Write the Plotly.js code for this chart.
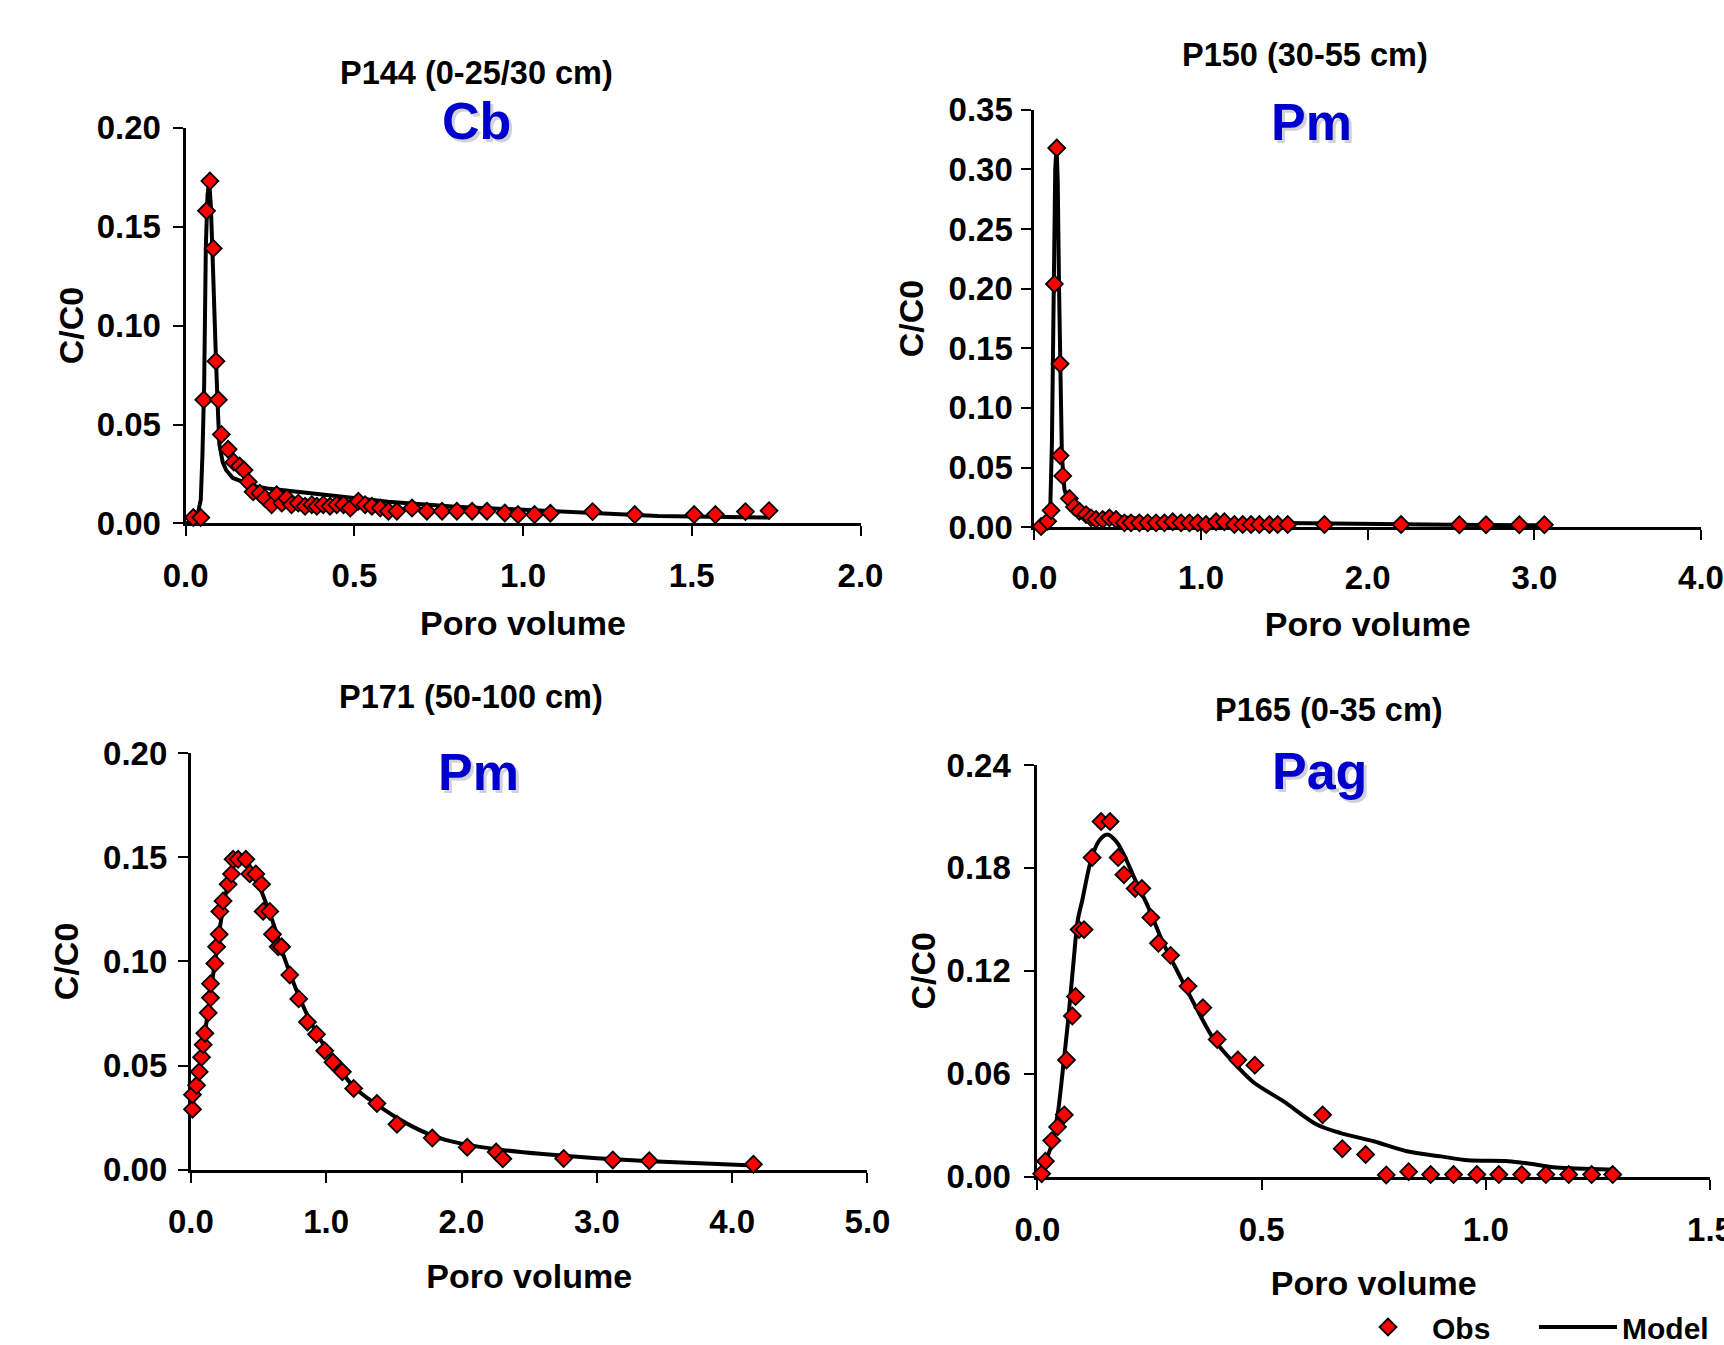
<!DOCTYPE html>
<html>
<head>
<meta charset="utf-8">
<script src="https://cdn.plot.ly/plotly-3.0.1.min.js"></script>
<style>html,body{margin:0;padding:0;background:#fff;}</style>
</head>
<body>
<div id="chart" style="width:1724px;height:1345px"></div>
<script>
// ---------------- DATA ----------------
const panelTitles = ["P144 (0-25/30 cm)", "P150 (30-55 cm)", "P171 (50-100 cm)", "P165 (0-35 cm)"];
const soilLabels = ["Cb", "Pm", "Pm", "Pag"];
const xAxisTitle = "Poro volume";
const yAxisTitle = "C/C0";
const seriesNames = ["Obs", "Model"];

// P144 (0-25/30 cm) - Cb
const p144ObsX = [0.023, 0.045, 0.054, 0.062, 0.072, 0.082, 0.090, 0.097, 0.106, 0.126, 0.143, 0.160, 0.173, 0.186, 0.200, 0.220, 0.235, 0.255, 0.270, 0.285, 0.300, 0.314, 0.334, 0.354, 0.374, 0.389, 0.408, 0.428, 0.448, 0.468, 0.488, 0.512, 0.532, 0.552, 0.577, 0.601, 0.626, 0.671, 0.715, 0.760, 0.804, 0.849, 0.893, 0.946, 0.985, 1.034, 1.081, 1.206, 1.331, 1.507, 1.570, 1.659, 1.729];
const p144ObsY = [0.003, 0.003, 0.0625, 0.158, 0.173, 0.139, 0.082, 0.0625, 0.045, 0.0375, 0.031, 0.029, 0.027, 0.021, 0.016, 0.0153, 0.0128, 0.0095, 0.0145, 0.0103, 0.0128, 0.0095, 0.0103, 0.0087, 0.0095, 0.0087, 0.0095, 0.0087, 0.0095, 0.0095, 0.0078, 0.0112, 0.0095, 0.0087, 0.0078, 0.0062, 0.0062, 0.0078, 0.0062, 0.0062, 0.0062, 0.0062, 0.0062, 0.0053, 0.0045, 0.0045, 0.0052, 0.0060, 0.0045, 0.0045, 0.0045, 0.0060, 0.0065];
const p144ModelX = [0, 0.02, 0.035, 0.045, 0.05, 0.055, 0.06, 0.065, 0.07, 0.075, 0.08, 0.085, 0.09, 0.095, 0.1, 0.11, 0.12, 0.14, 0.17, 0.2, 0.25, 0.3, 0.4, 0.5, 0.6, 0.8, 1.0, 1.2, 1.4, 1.6, 1.73];
const p144ModelY = [0, 0.001, 0.004, 0.012, 0.035, 0.07, 0.14, 0.166, 0.173, 0.16, 0.135, 0.115, 0.083, 0.06, 0.04, 0.031, 0.027, 0.023, 0.021, 0.019, 0.0175, 0.0165, 0.0145, 0.0125, 0.011, 0.0085, 0.0068, 0.005, 0.0038, 0.0033, 0.003];

// P150 (30-55 cm) - Pm
const p150ObsX = [0.04, 0.08, 0.10, 0.12, 0.134, 0.154, 0.154, 0.17, 0.21, 0.24, 0.27, 0.31, 0.34, 0.37, 0.41, 0.45, 0.49, 0.54, 0.58, 0.63, 0.68, 0.73, 0.78, 0.83, 0.88, 0.93, 0.98, 1.03, 1.09, 1.14, 1.20, 1.25, 1.30, 1.35, 1.41, 1.46, 1.52, 1.74, 2.20, 2.55, 2.71, 2.91, 3.06];
const p150ObsY = [0.0005, 0.005, 0.014, 0.204, 0.318, 0.137, 0.060, 0.043, 0.024, 0.017, 0.0133, 0.0105, 0.0078, 0.0064, 0.0064, 0.0078, 0.0064, 0.0036, 0.0036, 0.0036, 0.0036, 0.0036, 0.0036, 0.0045, 0.0036, 0.0036, 0.0036, 0.0022, 0.0045, 0.0045, 0.0022, 0.0022, 0.0022, 0.0022, 0.0022, 0.0022, 0.0022, 0.0022, 0.0022, 0.002, 0.002, 0.002, 0.002];
const p150ModelX = [0, 0.05, 0.08, 0.095, 0.105, 0.115, 0.125, 0.133, 0.14, 0.148, 0.155, 0.165, 0.18, 0.2, 0.23, 0.3, 0.4, 0.5, 0.7, 1.0, 1.5, 2.0, 2.5, 3.06];
const p150ModelY = [0, 0.001, 0.004, 0.015, 0.07, 0.2, 0.3, 0.32, 0.29, 0.2, 0.12, 0.06, 0.032, 0.022, 0.016, 0.012, 0.01, 0.0085, 0.0065, 0.005, 0.0035, 0.0025, 0.002, 0.0015];

// P171 (50-100 cm) - Pm
const p171ObsX = [0.012, 0.012, 0.042, 0.061, 0.079, 0.091, 0.103, 0.128, 0.145, 0.145, 0.177, 0.19, 0.209, 0.214, 0.238, 0.275, 0.300, 0.312, 0.349, 0.406, 0.435, 0.480, 0.522, 0.534, 0.583, 0.603, 0.645, 0.67, 0.731, 0.797, 0.861, 0.928, 0.989, 1.050, 1.119, 1.203, 1.375, 1.523, 1.784, 2.042, 2.256, 2.305, 2.755, 3.118, 3.387, 4.157];
const p171ObsY = [0.029, 0.036, 0.0405, 0.047, 0.054, 0.060, 0.0655, 0.0753, 0.0825, 0.0893, 0.099, 0.107, 0.113, 0.124, 0.129, 0.137, 0.142, 0.149, 0.149, 0.149, 0.142, 0.142, 0.137, 0.124, 0.124, 0.113, 0.107, 0.107, 0.0935, 0.082, 0.0709, 0.065, 0.0571, 0.0516, 0.047, 0.039, 0.0318, 0.0218, 0.0152, 0.0108, 0.0085, 0.0052, 0.0054, 0.0047, 0.0043, 0.0026];
const p171ModelX = [0.01, 0.05, 0.1, 0.15, 0.2, 0.25, 0.3, 0.35, 0.4, 0.45, 0.5, 0.6, 0.7, 0.8, 0.9, 1.0, 1.2, 1.4, 1.6, 1.8, 2.0, 2.3, 2.6, 3.0, 3.4, 4.16];
const p171ModelY = [0.03, 0.043, 0.064, 0.087, 0.11, 0.13, 0.143, 0.149, 0.149, 0.144, 0.137, 0.12, 0.1, 0.083, 0.069, 0.058, 0.04, 0.03, 0.022, 0.016, 0.0125, 0.0095, 0.0075, 0.0055, 0.004, 0.002];

// P165 (0-35 cm) - Pag
const p165ObsX = [0.0096, 0.018, 0.032, 0.045, 0.060, 0.065, 0.078, 0.085, 0.093, 0.104, 0.122, 0.142, 0.162, 0.180, 0.193, 0.218, 0.233, 0.253, 0.270, 0.297, 0.336, 0.369, 0.401, 0.447, 0.485, 0.636, 0.680, 0.732, 0.778, 0.828, 0.877, 0.928, 0.980, 1.029, 1.080, 1.134, 1.185, 1.236, 1.283];
const p165ObsY = [0.0017, 0.009, 0.021, 0.029, 0.036, 0.068, 0.0937, 0.105, 0.144, 0.144, 0.186, 0.207, 0.207, 0.186, 0.176, 0.168, 0.168, 0.151, 0.136, 0.129, 0.111, 0.0985, 0.080, 0.068, 0.065, 0.036, 0.0163, 0.0129, 0.001, 0.0029, 0.0012, 0.0012, 0.0012, 0.0012, 0.0012, 0.0012, 0.0012, 0.0012, 0.0012];
const p165ModelX = [0.004, 0.015, 0.032, 0.046, 0.057, 0.068, 0.079, 0.09, 0.1, 0.119, 0.137, 0.156, 0.178, 0.196, 0.219, 0.244, 0.281, 0.318, 0.356, 0.393, 0.437, 0.481, 0.55, 0.624, 0.676, 0.75, 0.824, 0.9, 0.96, 1.05, 1.1, 1.15, 1.2, 1.29];
const p165ModelY = [0.0013, 0.0071, 0.0187, 0.0379, 0.0629, 0.0898, 0.1206, 0.1495, 0.161, 0.184, 0.1956, 0.1995, 0.1947, 0.186, 0.1725, 0.159, 0.136, 0.1167, 0.0975, 0.0802, 0.0667, 0.0552, 0.0437, 0.0302, 0.0254, 0.0206, 0.0148, 0.0118, 0.0095, 0.009, 0.0075, 0.0055, 0.0048, 0.004];

// ---------------- LAYOUT ----------------
const W = 1724, H = 1345;
const FONT = '"Liberation Sans", Arial, Helvetica, sans-serif';
const fx = p => p / W;          // pixel -> paper x
const fy = p => 1 - p / H;      // pixel -> paper y

const obsMarker = {symbol: 'diamond', size: 13, color: '#ff0000', line: {color: '#000000', width: 1.8}};
const modelLine = {color: '#000000', width: 4};

const panels = [
  {obsX: p144ObsX, obsY: p144ObsY, modX: p144ModelX, modY: p144ModelY, shape: 'linear',
   xdom: [185.7, 861], ydom: [529, 129], xr: [0, 2], xd: 0.5, yr: [0, 0.2], yd: 0.05,
   title: [477, 74], label: [477, 122], xlabOff: 11, xtitleOff: 19, ylabOff: 5, ytitleOff: 3},
  {obsX: p150ObsX, obsY: p150ObsY, modX: p150ModelX, modY: p150ModelY, shape: 'linear',
   xdom: [1035, 1702], ydom: [532.7, 111], xr: [0, 4], xd: 1.0, yr: [0, 0.35], yd: 0.05,
   title: [1306, 56], label: [1312, 123], xlabOff: 9, xtitleOff: 18, ylabOff: 2, ytitleOff: 15},
  {obsX: p171ObsX, obsY: p171ObsY, modX: p171ModelX, modY: p171ModelY, shape: 'spline',
   xdom: [191, 868], ydom: [1182, 761], xr: [0, 5], xd: 1.0, yr: [0, 0.2], yd: 0.05,
   title: [471, 704], label: [479, 780], xlabOff: 11, xtitleOff: 25, ylabOff: 4, ytitleOff: 15},
  {obsX: p165ObsX, obsY: p165ObsY, modX: p165ModelX, modY: p165ModelY, shape: 'spline',
   xdom: [1038, 1711], ydom: [1189, 773], xr: [0, 1.5], xd: 0.5, yr: [0, 0.24], yd: 0.06,
   title: [1330, 717], label: [1320, 779], xlabOff: 12, xtitleOff: 24, ylabOff: 7, ytitleOff: 1}
];

const traces = [];
const layout = {
  width: W, height: H,
  margin: {l: 0, r: 0, t: 0, b: 0},
  paper_bgcolor: '#ffffff', plot_bgcolor: 'rgba(0,0,0,0)',
  font: {family: FONT, color: '#000000'},
  showlegend: true,
  legend: {
    orientation: 'h', x: fx(1345), xanchor: 'left', y: fy(1333), yanchor: 'middle',
    font: {family: FONT, size: 30, color: '#000000', weight: 'bold'},
    itemwidth: 78, entrywidth: 97, entrywidthmode: 'pixels',
    bgcolor: 'rgba(0,0,0,0)', borderwidth: 0
  },
  annotations: []
};

panels.forEach((p, i) => {
  const n = i === 0 ? '' : String(i + 1);
  const xa = 'x' + n, ya = 'y' + n;
  traces.push({
    type: 'scatter', mode: 'lines', x: p.modX, y: p.modY, xaxis: xa, yaxis: ya,
    name: seriesNames[1], legendgroup: 'model', showlegend: i === 0, legendrank: 2,
    line: Object.assign({shape: p.shape, smoothing: 0.8}, modelLine), cliponaxis: false, hoverinfo: 'skip'
  });
  traces.push({
    type: 'scatter', mode: 'markers', x: p.obsX, y: p.obsY, xaxis: xa, yaxis: ya,
    name: seriesNames[0], legendgroup: 'obs', showlegend: i === 0, legendrank: 1,
    marker: obsMarker, cliponaxis: false
  });
  const axCommon = {
    showline: true, linecolor: '#000000', linewidth: 3,
    ticks: 'outside', ticklen: 10, tickwidth: 2, tickcolor: '#000000',
    showgrid: false, zeroline: false, layer: 'below traces', fixedrange: true,
    tickfont: {family: FONT, size: 33, color: '#000000', weight: 'bold'}
  };
  layout['xaxis' + n] = Object.assign({}, axCommon, {
    domain: [fx(p.xdom[0]), fx(p.xdom[1])], range: p.xr, tick0: 0, dtick: p.xd, tickformat: '.1f',
    anchor: ya, ticklabelstandoff: p.xlabOff, ticklabeloverflow: 'allow',
    title: {text: xAxisTitle, standoff: p.xtitleOff, font: {family: FONT, size: 34, color: '#000000', weight: 'bold'}}
  });
  layout['yaxis' + n] = Object.assign({}, axCommon, {
    domain: [fy(p.ydom[0]), fy(p.ydom[1])], range: p.yr, tick0: 0, dtick: p.yd, tickformat: '.2f',
    anchor: xa, ticklabelstandoff: p.ylabOff,
    title: {text: yAxisTitle, standoff: p.ytitleOff, font: {family: FONT, size: 34, color: '#000000', weight: 'bold'}}
  });
  layout.annotations.push({
    xref: 'paper', yref: 'paper', x: fx(p.title[0]), y: fy(p.title[1]), xanchor: 'center', yanchor: 'middle',
    showarrow: false, text: panelTitles[i], font: {family: FONT, size: 32.5, color: '#000000', weight: 'bold'}
  });
  // soft shadow, then the blue soil label
  layout.annotations.push({
    xref: 'paper', yref: 'paper', x: fx(p.label[0] + 3), y: fy(p.label[1] + 3), xanchor: 'center', yanchor: 'middle',
    showarrow: false, text: soilLabels[i], font: {family: FONT, size: 52, color: 'rgba(90,90,120,0.28)', weight: 'bold'}
  });
  layout.annotations.push({
    xref: 'paper', yref: 'paper', x: fx(p.label[0]), y: fy(p.label[1]), xanchor: 'center', yanchor: 'middle',
    showarrow: false, text: soilLabels[i], font: {family: FONT, size: 52, color: '#0000cc', weight: 'bold'}
  });
});

Plotly.newPlot('chart', traces, layout, {displayModeBar: false, staticPlot: true}).then(gd => {
  // Plotly keeps the legend box inside the page; nudge it a little lower, nearer the bottom edge as in the original
  const lg = gd.querySelector('g.legend');
  if (lg) {
    const m = /translate\(\s*([-\d.]+)[\s,]+([-\d.]+)\s*\)/.exec(lg.getAttribute('transform') || '');
    if (m) lg.setAttribute('transform', 'translate(' + (+m[1]) + ',' + (+m[2] + 8) + ')');
  }
});
</script>
</body>
</html>
